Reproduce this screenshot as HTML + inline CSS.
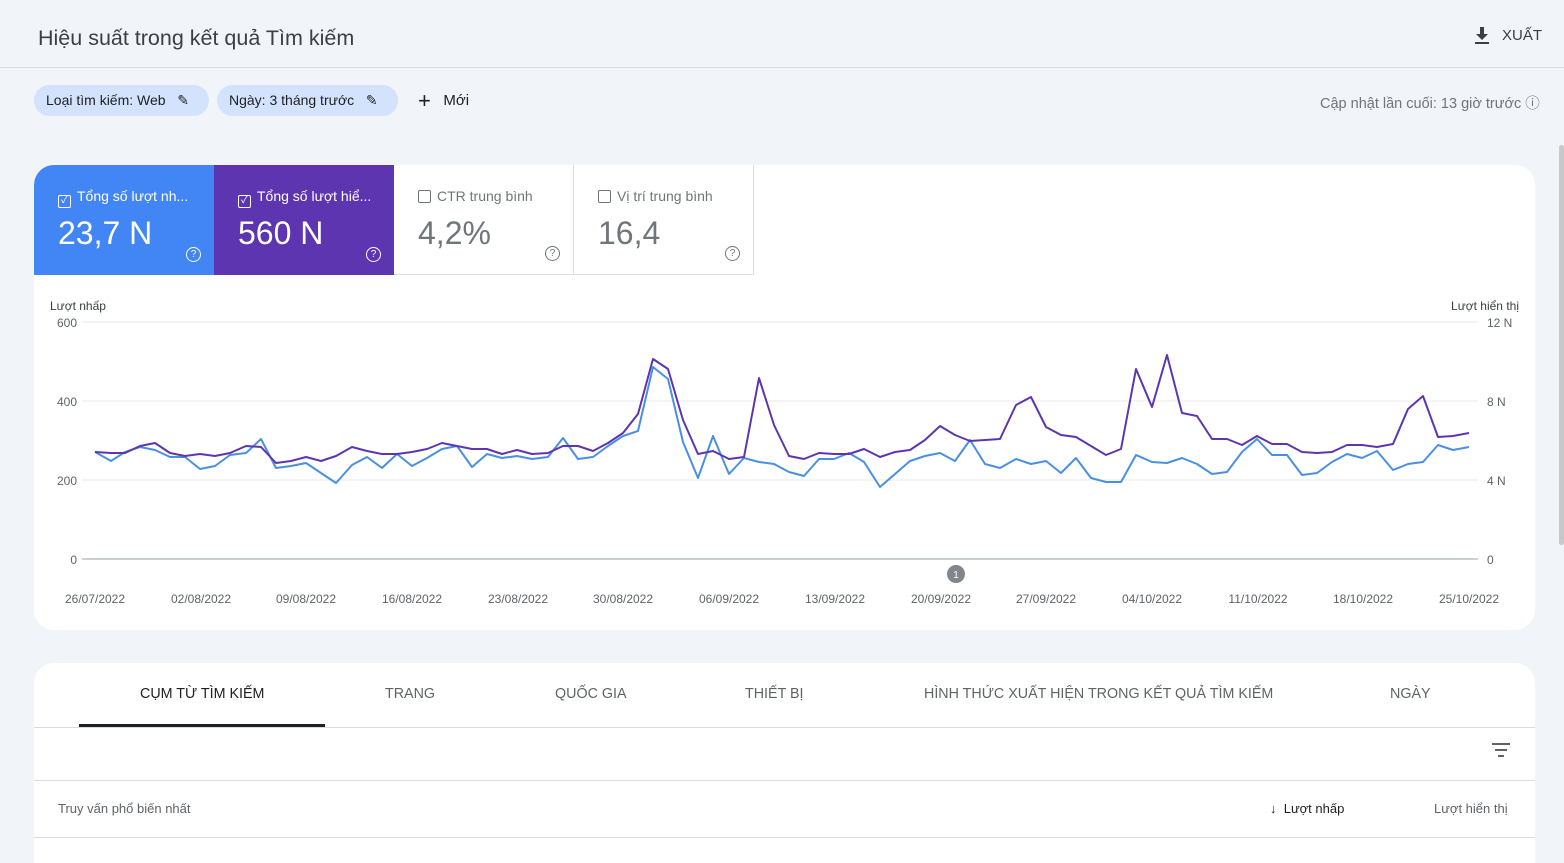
<!DOCTYPE html>
<html><head><meta charset="utf-8"><style>
*{box-sizing:border-box;margin:0;padding:0}
body{width:1564px;height:845px;overflow:hidden;background:#f1f4f9;font-family:"Liberation Sans","Noto Sans CJK SC",sans-serif;color:#202124;position:relative}
.abs{position:absolute}
.chip{position:absolute;top:85px;height:31px;border-radius:16px;background:#d3e3fd;font-size:14px;line-height:31px;padding-left:12px;color:#1f1f1f}
.card{position:absolute;background:#fff;border-radius:20px}
.tile{position:absolute;top:165px;height:110px;width:180px}
.tile .t{position:absolute;left:24px;top:23px;font-size:14px}
.tile .v{position:absolute;left:24px;top:50px;font-size:32px}
.cb{display:inline-block;width:13px;height:13px;border:1.5px solid currentColor;border-radius:2px;vertical-align:-2px;margin-right:6px;font-size:10px;line-height:10px;text-align:center}
.q{position:absolute;right:13px;bottom:13px;width:15px;height:15px;border:1.3px solid currentColor;border-radius:50%;font-size:10px;line-height:13px;text-align:center}
.ax{font-size:12px;fill:#5f6368}
.tab{position:absolute;top:686px;font-size:14.3px;color:#5f6368}
</style></head><body>
<div class="abs" style="left:0;top:0;width:1564px;height:68px;border-bottom:1px solid #dadce0"></div>
<div class="abs" style="left:38px;top:26px;font-size:21.5px;color:#3c4043">Hiệu suất trong kết quả Tìm kiếm</div>
<svg class="abs" style="left:1474px;top:27px" width="16" height="18"><path d="M6 0h4v7h4l-6 6-6-6h4z M1 15h14v2H1z" fill="#3c4043"/></svg>
<div class="abs" style="left:1502px;top:27px;font-size:15px;color:#3c4043">XUẤT</div>
<div class="chip" style="left:34px;width:175px">Loại tìm kiếm: Web &nbsp;&nbsp;✎</div>
<div class="chip" style="left:217px;width:181px">Ngày: 3 tháng trước &nbsp;&nbsp;✎</div>
<div class="abs" style="left:418px;top:88px;font-size:15px"><span style="font-size:22px;vertical-align:-3px">+</span>&nbsp;&nbsp; Mới</div>
<div class="abs" style="left:1320px;top:92px;font-size:14.5px;color:#70757a">Cập nhật lần cuối: 13 giờ trước ⓘ</div>
<div class="abs" style="left:1559px;top:145px;width:5px;height:400px;background:#c8c8c8;border-radius:3px"></div>

<div class="card" style="left:34px;top:165px;width:1501px;height:465px"></div>
<div class="tile" style="left:34px;background:#4285f4;color:#fff;border-top-left-radius:20px"><div class="t"><span class="cb">✓</span>Tổng số lượt nh...</div><div class="v">23,7 N</div><div class="q">?</div></div>
<div class="tile" style="left:214px;background:#5e35b1;color:#fff"><div class="t"><span class="cb">✓</span>Tổng số lượt hiể...</div><div class="v">560 N</div><div class="q">?</div></div>
<div class="tile" style="left:394px;color:#70757a;border-right:1px solid #dadce0;border-bottom:1px solid #dadce0"><div class="t"><span class="cb"></span>CTR trung bình</div><div class="v">4,2%</div><div class="q">?</div></div>
<div class="tile" style="left:574px;color:#70757a;border-right:1px solid #dadce0;border-bottom:1px solid #dadce0"><div class="t"><span class="cb"></span>Vị trí trung bình</div><div class="v">16,4</div><div class="q">?</div></div>

<svg class="abs" style="left:0;top:0" width="1564" height="640">
<g stroke="#e8eaed" stroke-width="1"><line x1="82" y1="322" x2="1478" y2="322"/><line x1="82" y1="401" x2="1478" y2="401"/><line x1="82" y1="480" x2="1478" y2="480"/></g>
<line x1="82" y1="559" x2="1478" y2="559" stroke="#9aa0a6"/>
<text class="ax" x="50" y="310" style="fill:#3c4043">Lượt nhấp</text>
<text class="ax" x="1519" y="310" text-anchor="end" style="fill:#3c4043">Lượt hiển thị</text>
<g class="ax" text-anchor="end"><text x="77" y="327">600</text><text x="77" y="406">400</text><text x="77" y="485">200</text><text x="77" y="564">0</text></g>
<g class="ax"><text x="1487" y="327">12 N</text><text x="1487" y="406">8 N</text><text x="1487" y="485">4 N</text><text x="1487" y="564">0</text></g>
<g class="ax" text-anchor="middle"><text x="95" y="603">26/07/2022</text><text x="201" y="603">02/08/2022</text><text x="306" y="603">09/08/2022</text><text x="412" y="603">16/08/2022</text><text x="518" y="603">23/08/2022</text><text x="623" y="603">30/08/2022</text><text x="729" y="603">06/09/2022</text><text x="835" y="603">13/09/2022</text><text x="941" y="603">20/09/2022</text><text x="1046" y="603">27/09/2022</text><text x="1152" y="603">04/10/2022</text><text x="1258" y="603">11/10/2022</text><text x="1363" y="603">18/10/2022</text><text x="1469" y="603">25/10/2022</text></g>
<circle cx="956" cy="574" r="9" fill="#80868b"/><text x="956" y="578" font-size="10" fill="#fff" text-anchor="middle">1</text>
<polyline fill="none" stroke="#4a90e2" stroke-width="2" stroke-linejoin="round" points="95,452 111,461 125,452 140,447 155,450 170,457 185,457 200,469 215,466 230,455 246,453 261,439 276,468 291,466 306,463 321,473 336,483 352,465 367,457 382,468 397,454 412,466 427,458 442,449 457,446 472,467 487,454 502,458 517,456 532,459 548,457 563,438 578,459 593,457 608,446 623,436 638,431 653,367 668,379 683,442 698,478 713,436 729,474 744,458 759,462 774,464 789,472 804,476 819,459 834,459 849,453 864,462 880,487 895,474 910,461 925,456 940,453 955,461 970,440 985,464 1000,468 1016,459 1031,464 1046,461 1061,473 1076,458 1091,478 1106,482 1121,482 1136,455 1152,462 1167,463 1182,458 1197,464 1212,474 1227,472 1242,452 1257,439 1272,455 1287,455 1302,475 1317,473 1332,462 1347,454 1362,458 1377,451 1393,470 1408,464 1423,462 1438,445 1453,450 1469,447"/>
<polyline fill="none" stroke="#5e35b1" stroke-width="2" stroke-linejoin="round" points="95,452 111,453 125,453 140,446 155,443 170,453 185,456 200,454 215,456 230,453 246,446 261,447 276,463 291,461 306,457 321,461 336,456 352,447 367,451 382,454 397,454 412,452 427,449 442,443 457,446 472,449 487,449 502,454 517,450 532,454 548,453 563,446 578,446 593,451 608,443 623,433 638,414 653,359 668,369 683,420 698,454 713,451 729,459 744,457 759,378 774,425 789,456 804,459 819,453 834,454 849,454 864,449 880,457 895,452 910,450 925,440 940,426 955,435 970,441 985,440 1000,439 1016,405 1031,397 1046,427 1061,435 1076,437 1091,446 1106,455 1121,449 1136,369 1152,407 1167,355 1182,413 1197,416 1212,439 1227,439 1242,445 1257,436 1272,444 1287,444 1302,452 1317,453 1332,452 1347,445 1362,445 1377,447 1393,444 1408,409 1423,396 1438,437 1453,436 1469,433"/>
</svg>

<div class="card" style="left:34px;top:663px;width:1501px;height:200px;border-radius:20px 20px 0 0"></div>
<div class="tab" style="left:140px;color:#202124">CỤM TỪ TÌM KIẾM</div>
<div class="abs" style="left:79px;top:724px;width:246px;height:3px;background:#202124"></div>
<div class="tab" style="left:385px">TRANG</div>
<div class="tab" style="left:555px">QUỐC GIA</div>
<div class="tab" style="left:745px">THIẾT BỊ</div>
<div class="tab" style="left:924px">HÌNH THỨC XUẤT HIỆN TRONG KẾT QUẢ TÌM KIẾM</div>
<div class="tab" style="left:1390px">NGÀY</div>
<div class="abs" style="left:34px;top:727px;width:1501px;height:1px;background:#dadce0"></div>
<div class="abs" style="left:1492px;top:743px;width:18px;height:2px;background:#5f6368"></div>
<div class="abs" style="left:1495px;top:749px;width:12px;height:2px;background:#5f6368"></div>
<div class="abs" style="left:1498px;top:755px;width:6px;height:2px;background:#5f6368"></div>
<div class="abs" style="left:34px;top:780px;width:1501px;height:1px;background:#dadce0"></div>
<div class="abs" style="left:58px;top:801px;font-size:13px;color:#5f6368">Truy vấn phổ biến nhất</div>
<div class="abs" style="left:1270px;top:801px;font-size:13px;color:#202124">↓&nbsp; Lượt nhấp</div>
<div class="abs" style="left:1434px;top:801px;font-size:13px;color:#5f6368">Lượt hiển thị</div>
<div class="abs" style="left:34px;top:837px;width:1501px;height:1px;background:#dadce0"></div>
</body></html>
